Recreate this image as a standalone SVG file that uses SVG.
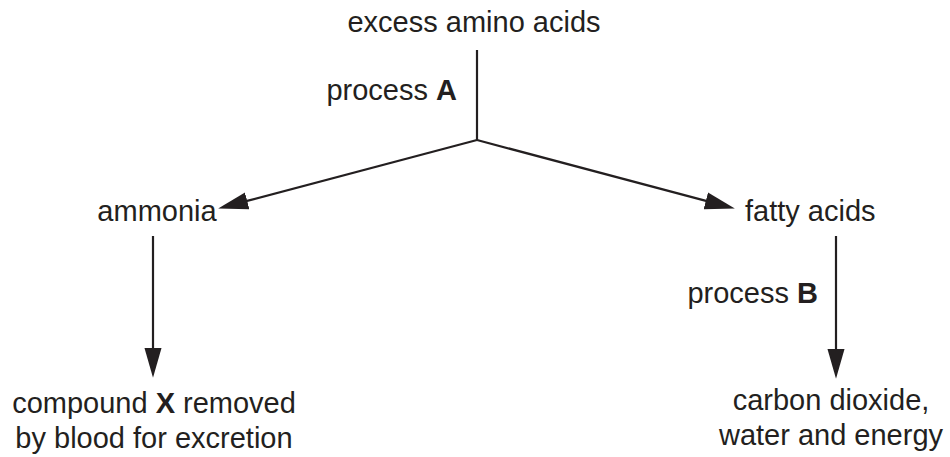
<svg xmlns="http://www.w3.org/2000/svg" width="950" height="457" viewBox="0 0 950 457">
  <style>
    text { font-family: "Liberation Sans", Arial, Helvetica, sans-serif; font-size: 29px; fill: #231f20; }
    .mid { text-anchor: middle; }
    .end { text-anchor: end; }
    .b { font-weight: bold; }
    .conn { stroke: #231f20; stroke-width: 2.2; fill: none; }
  </style>
  <defs>
    <marker id="head" markerUnits="userSpaceOnUse" markerWidth="30" markerHeight="18" viewBox="0 0 28 16" refX="2" refY="8" orient="auto">
      <path d="M0,0 L28,8 L0,16 z" fill="#231f20"/>
    </marker>
  </defs>

  <rect width="950" height="457" fill="#ffffff"/>

  <g id="connectors">
    <line class="conn" x1="477" y1="50" x2="477" y2="140"/>
    <line class="conn" x1="477" y1="140" x2="245.1" y2="201.4" marker-end="url(#head)"/>
    <line class="conn" x1="477" y1="140" x2="707.9" y2="201.4" marker-end="url(#head)"/>
    <line class="conn" x1="153" y1="236" x2="153" y2="350" marker-end="url(#head)"/>
    <line class="conn" x1="836" y1="236" x2="836" y2="351" marker-end="url(#head)"/>
  </g>

  <g id="amino-acids">
    <text class="mid" x="474" y="32">excess amino acids</text>
  </g>
  <g id="label-process-a">
    <text class="end" x="457" y="100">process <tspan class="b">A</tspan></text>
  </g>
  <g id="ammonia">
    <text class="mid" x="157" y="221">ammonia</text>
  </g>
  <g id="fatty-acids">
    <text x="745" y="221">fatty acids</text>
  </g>
  <g id="label-process-b">
    <text class="end" x="818" y="303">process <tspan class="b">B</tspan></text>
  </g>
  <g id="compound-x">
    <text class="mid" x="154" y="413">compound <tspan class="b">X</tspan> removed</text>
    <text class="mid" x="154" y="448">by blood for excretion</text>
  </g>
  <g id="products">
    <text class="mid" x="831" y="410">carbon dioxide,</text>
    <text class="mid" x="831" y="445">water and energy</text>
  </g>
</svg>
